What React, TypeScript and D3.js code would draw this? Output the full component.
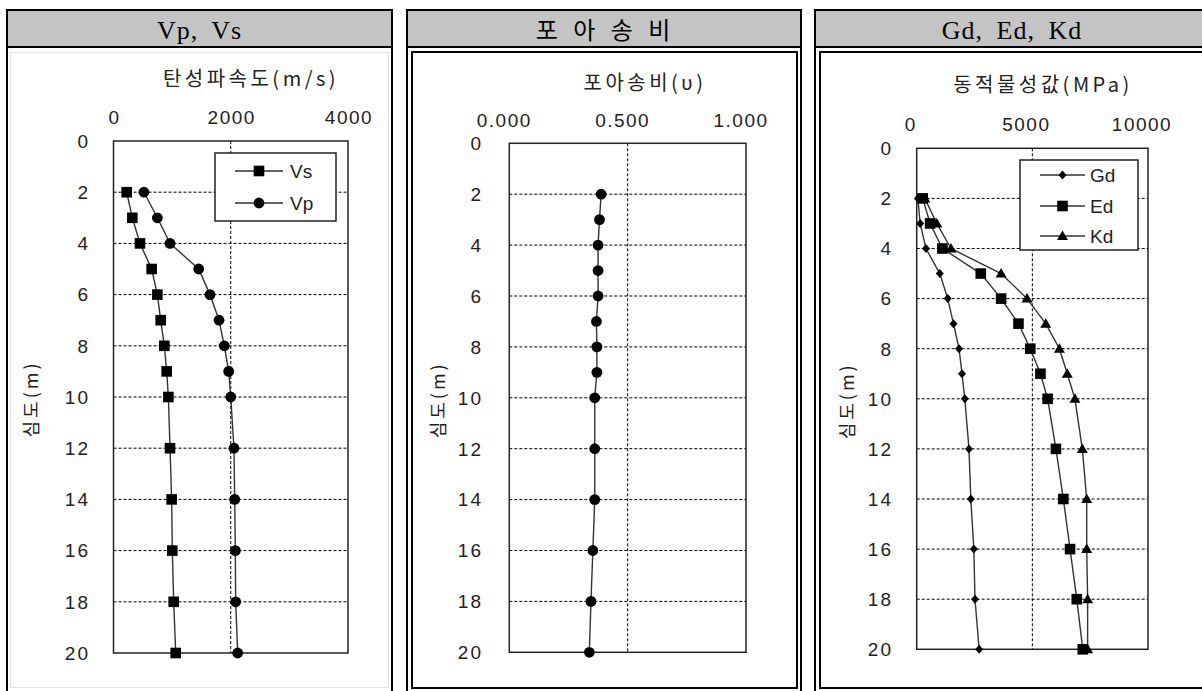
import React from "react";
import * as d3 from "d3";

// ---------- data ----------
const depths = [2, 3, 4, 5, 6, 7, 8, 9, 10, 12, 14, 16, 18, 20];
const vsValues = [225, 321, 452, 651, 748, 805, 867, 907, 936, 964, 992, 1003, 1027, 1061];
const vpValues = [520, 748, 964, 1453, 1646, 1800, 1890, 1965, 2000, 2055, 2067, 2078, 2084, 2118];
const poissonValues = [0.388, 0.381, 0.375, 0.375, 0.375, 0.368, 0.37, 0.37, 0.361, 0.361, 0.361, 0.353, 0.345, 0.338];
const gdValues = [50, 150, 400, 1000, 1340, 1590, 1830, 1960, 2080, 2260, 2340, 2470, 2520, 2700];
const edValues = [260, 580, 1110, 2770, 3650, 4400, 4910, 5350, 5660, 6020, 6340, 6630, 6920, 7180];
const kdValues = [350, 870, 1480, 3650, 4770, 5580, 6170, 6510, 6840, 7160, 7350, 7350, 7390, 7390];

const depthTicks = [0, 2, 4, 6, 8, 10, 12, 14, 16, 18, 20];
const vTicks = [0, 2000, 4000];
const poissonTicks = [0, 0.5, 1];
const modTicks = [0, 5000, 10000];

const panelTitles = ["Vp, Vs", "포 아 송 비", "Gd, Ed, Kd"];
const axisTitles = ["탄성파속도(m/s)", "포아송비(υ)", "동적물성값(MPa)"];
const depthTitle = "심도(m)";

type Marker = "square" | "circle" | "diamond" | "triangle";
type Series = { name: string; values: number[]; marker: Marker };

const NUM_FONT = "'Liberation Sans', Arial, sans-serif";
const KR_FONT = "'Noto Sans CJK KR', 'Noto Sans', sans-serif";
const SERIF_FONT = "'Liberation Serif', 'DejaVu Serif', 'Noto Sans CJK KR', serif";

function MarkerShape({ type, x, y }: { type: Marker; x: number; y: number }) {
  if (type === "square") return <rect x={x - 5.3} y={y - 5.3} width={10.6} height={10.6} fill="#000" />;
  if (type === "circle") return <circle cx={x} cy={y} r={5.4} fill="#000" />;
  if (type === "diamond")
    return <path d={`M${x},${y - 4.5}L${x + 4},${y}L${x},${y + 4.5}L${x - 4},${y}Z`} fill="#000" />;
  return <path d={`M${x},${y - 5.5}L${x + 5.5},${y + 4}L${x - 5.5},${y + 4}Z`} fill="#000" />;
}

type PanelCfg = {
  plot: { l: number; r: number; t: number; b: number };
  domain: [number, number];
  ticks: number[];
  fmt: (v: number) => string;
  tickDx: number;
  tickBaseline: number;
  axisTitle: string;
  axisTitleX: number;
  axisTitleY: number;
  yLabelX: number;
  yTitleX: number;
  series: Series[];
  legend?: { x: number; y: number; w: number; h: number; rowY: number[]; lx1: number; lx2: number; tx: number };
};

function Panel({ cfg }: { cfg: PanelCfg }) {
  const { plot } = cfg;
  const x = d3.scaleLinear().domain(cfg.domain).range([plot.l, plot.r]);
  const y = d3.scaleLinear().domain([0, 20]).range([plot.t, plot.b]);
  const mid = (cfg.domain[0] + cfg.domain[1]) / 2;
  const line = d3
    .line<number>()
    .x((v) => x(v))
    .y((_, i) => y(depths[i]));
  const gridDepths = depthTicks.filter((d) => d > 0 && d < 20);
  return (
    <g>
      {gridDepths.map((d) => (
        <line key={"g" + d} x1={plot.l} x2={plot.r} y1={y(d)} y2={y(d)} stroke="#000" strokeWidth={1} strokeDasharray="3,2" />
      ))}
      <line x1={x(mid)} x2={x(mid)} y1={plot.t} y2={plot.b} stroke="#000" strokeWidth={1} strokeDasharray="3,2" />
      <rect x={plot.l} y={plot.t} width={plot.r - plot.l} height={plot.b - plot.t} fill="none" stroke="#222" strokeWidth={1.5} />
      {cfg.ticks.map((t) => (
        <text key={"xt" + t} x={x(t) + cfg.tickDx} y={cfg.tickBaseline} textAnchor="middle" fontFamily={NUM_FONT} fontSize={19} letterSpacing={1.5} fill="#222">
          {cfg.fmt(t)}
        </text>
      ))}
      <text x={cfg.axisTitleX} y={cfg.axisTitleY} textAnchor="middle" fontFamily={KR_FONT} fontSize={20} letterSpacing={3.5} fill="#222">
        {cfg.axisTitle}
      </text>
      {depthTicks.map((d) => (
        <text key={"yt" + d} x={cfg.yLabelX} y={y(d)} dy="0.36em" textAnchor="end" fontFamily={NUM_FONT} fontSize={19} letterSpacing={2} fill="#222">
          {d}
        </text>
      ))}
      <text
        transform={`translate(${cfg.yTitleX},${(plot.t + plot.b) / 2 + 2}) rotate(-90)`}
        textAnchor="middle"
        dy="0.35em"
        fontFamily={KR_FONT}
        fontSize={18}
        letterSpacing={3}
        fill="#222"
      >
        {depthTitle}
      </text>
      {cfg.series.map((s) => (
        <path key={"l" + s.name} d={line(s.values) || ""} fill="none" stroke="#333" strokeWidth={1.4} />
      ))}
      {cfg.series.map((s) =>
        s.values.map((v, i) => <MarkerShape key={s.name + i} type={s.marker} x={x(v)} y={y(depths[i])} />)
      )}
      {cfg.legend && (
        <g>
          <rect x={cfg.legend.x} y={cfg.legend.y} width={cfg.legend.w} height={cfg.legend.h} fill="#fff" stroke="#222" strokeWidth={1.5} />
          {cfg.series.map((s, i) => {
            const ly = cfg.legend!.rowY[i];
            const cx = (cfg.legend!.lx1 + cfg.legend!.lx2) / 2;
            return (
              <g key={"lg" + s.name}>
                <line x1={cfg.legend!.lx1} x2={cfg.legend!.lx2} y1={ly} y2={ly} stroke="#333" strokeWidth={1.4} />
                <MarkerShape type={s.marker} x={cx} y={ly} />
                <text x={cfg.legend!.tx} y={ly} dy="0.36em" fontFamily={NUM_FONT} fontSize={19} fill="#222">
                  {s.name}
                </text>
              </g>
            );
          })}
        </g>
      )}
    </g>
  );
}

export default function App() {
  const panels: PanelCfg[] = [
    {
      plot: { l: 113.5, r: 348, t: 141, b: 653 },
      domain: [0, 4000],
      ticks: vTicks,
      fmt: (v) => String(v),
      tickDx: 1,
      tickBaseline: 124,
      axisTitle: axisTitles[0],
      axisTitleX: 251,
      axisTitleY: 86,
      yLabelX: 90,
      yTitleX: 32,
      series: [
        { name: "Vs", values: vsValues, marker: "square" },
        { name: "Vp", values: vpValues, marker: "circle" },
      ],
      legend: { x: 215, y: 153, w: 121, h: 68, rowY: [171, 203], lx1: 235, lx2: 283, tx: 290 },
    },
    {
      plot: { l: 509.3, r: 746, t: 143.3, b: 652.3 },
      domain: [0, 1],
      ticks: poissonTicks,
      fmt: (v) => d3.format(".3f")(v),
      tickDx: -5,
      tickBaseline: 127,
      axisTitle: axisTitles[1],
      axisTitleX: 645,
      axisTitleY: 90,
      yLabelX: 483,
      yTitleX: 439,
      series: [{ name: "υ", values: poissonValues, marker: "circle" }],
    },
    {
      plot: { l: 916.7, r: 1148, t: 148.3, b: 649.3 },
      domain: [0, 10000],
      ticks: modTicks,
      fmt: (v) => String(v),
      tickDx: -6,
      tickBaseline: 131,
      axisTitle: axisTitles[2],
      axisTitleX: 1043,
      axisTitleY: 92,
      yLabelX: 893,
      yTitleX: 848,
      series: [
        { name: "Gd", values: gdValues, marker: "diamond" },
        { name: "Ed", values: edValues, marker: "square" },
        { name: "Kd", values: kdValues, marker: "triangle" },
      ],
      legend: { x: 1020, y: 160, w: 118, h: 90, rowY: [175, 206, 236], lx1: 1040, lx2: 1085, tx: 1090 },
    },
  ];

  const frames = [
    { x: 7, w: 385, inner: null as null | { x: number; w: number } },
    { x: 407, w: 394, inner: { x: 412, w: 385 } },
    { x: 815, w: 400, inner: { x: 820, w: 400 } },
  ];
  const titleFonts = [SERIF_FONT, KR_FONT, SERIF_FONT];

  return (
    <svg
      width={1202}
      height={691}
      viewBox="0 0 1202 691"
      style={{ position: "absolute", left: 0, top: 0, background: "#fff" }}
    >
      <rect x={0} y={0} width={1202} height={691} fill="#fff" />
      {frames.map((f, i) => (
        <g key={"f" + i}>
          <rect x={f.x} y={10} width={f.w} height={37} fill="#c4c4c4" />
          <rect x={f.x} y={10} width={f.w} height={700} fill="none" stroke="#000" strokeWidth={2} />
          <line x1={f.x} x2={f.x + f.w} y1={47} y2={47} stroke="#000" strokeWidth={2} />
          {f.inner ? (
            <rect x={f.inner.x} y={52} width={f.inner.w} height={636} fill="none" stroke="#000" strokeWidth={2} />
          ) : (
            <rect x={10.5} y={52.5} width={378} height={635} fill="none" stroke="#e2e2e2" strokeWidth={1} />
          )}
          <text
            x={i === 2 ? 1012 : f.x + f.w / 2}
            y={39}
            textAnchor="middle"
            fontFamily={titleFonts[i]}
            fontSize={i === 1 ? 24 : 26}
            letterSpacing={i === 1 ? 2 : 1}
            wordSpacing={6}
            fill="#000"
            style={{ whiteSpace: "pre" }}
          >
            {panelTitles[i]}
          </text>
        </g>
      ))}
      {panels.map((p, i) => (
        <Panel key={"p" + i} cfg={p} />
      ))}
    </svg>
  );
}
